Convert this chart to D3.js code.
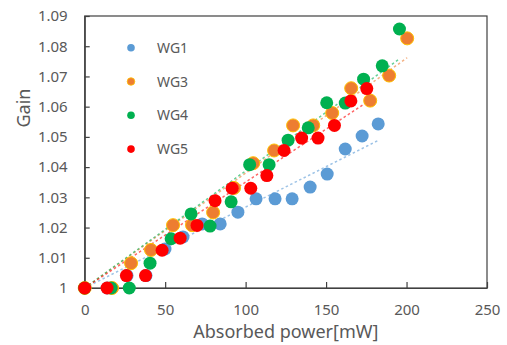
<!DOCTYPE html>
<html>
<head>
<meta charset="utf-8">
<script src="https://cdn.jsdelivr.net/npm/d3@7"></script>
<style>
  body { margin: 0; background: #fff; }
  text { font-family: "Noto Sans", sans-serif; fill: #595959; }
</style>
</head>
<body>
<svg width="507" height="345"></svg>
<script>
// Series data
const seriesNames = ["WG1", "WG3", "WG4", "WG5"];
const seriesColors = ["#5B9BD5", "#ED7D31", "#00B050", "#FF0000"];

const wg1Power = [0, 14, 26.3, 38.1, 49.9, 61.1, 73, 84.2, 95.2, 106.5, 118.3, 128.9, 140.1, 150.7, 161.9, 172.4, 182.4];
const wg1Gain  = [1, 1, 1.0041, 1.0041, 1.0129, 1.0169, 1.0212, 1.0212, 1.0251, 1.0295, 1.0295, 1.0295, 1.0334, 1.0377, 1.046, 1.0503, 1.0543];

const wg3Power = [0, 17, 28.8, 41.2, 54.9, 66.7, 79.8, 92.8, 104.7, 117.7, 129.5, 142, 153.8, 165.6, 177.4, 189.2, 200.4];
const wg3Gain  = [1, 1, 1.0082, 1.0126, 1.0208, 1.0208, 1.025, 1.0331, 1.0413, 1.0455, 1.0538, 1.0538, 1.0579, 1.0661, 1.062, 1.0703, 1.0826];

const wg4Power = [0, 16.4, 27.7, 40.6, 53.7, 66.1, 77.9, 91, 102.5, 114.6, 126.4, 138.9, 150.4, 161.9, 173.3, 184.9, 195.6];
const wg4Gain  = [1, 1, 1, 1.0082, 1.0163, 1.0245, 1.0205, 1.0285, 1.0408, 1.0408, 1.0489, 1.053, 1.0613, 1.0612, 1.0691, 1.0735, 1.0857];

const wg5Power = [0, 13.9, 25.9, 37.8, 48.1, 59.3, 69.8, 81, 91.6, 103.2, 113.2, 123.9, 134.8, 145, 155.2, 165.4, 175.3];
const wg5Gain  = [1, 1, 1.0041, 1.0041, 1.0125, 1.0165, 1.0207, 1.0289, 1.033, 1.033, 1.0372, 1.0455, 1.0496, 1.0496, 1.0538, 1.0619, 1.066];

const xTicks = [0, 50, 100, 150, 200, 250];
const yTicks = [1, 1.01, 1.02, 1.03, 1.04, 1.05, 1.06, 1.07, 1.08, 1.09];

const powers = [wg1Power, wg3Power, wg4Power, wg5Power];
const gains = [wg1Gain, wg3Gain, wg4Gain, wg5Gain];

const svg = d3.select("svg");
const x = d3.scaleLinear().domain([0, 250]).range([84.7, 487]);
const y = d3.scaleLinear().domain([1, 1.09]).range([288, 16]);

// plot frame
svg.append("rect")
    .attr("x", x(0)).attr("y", y(1.09))
    .attr("width", x(250) - x(0)).attr("height", y(1) - y(1.09))
    .attr("fill", "none").attr("stroke", "#404040").attr("stroke-width", 1.2);

// axes with inward ticks
const xAxis = svg.append("g")
    .attr("transform", `translate(0,${y(1)})`)
    .call(d3.axisBottom(x).tickValues(xTicks).tickSizeInner(-6).tickSizeOuter(0).tickPadding(16));
const yAxis = svg.append("g")
    .attr("transform", `translate(${x(0)},0)`)
    .call(d3.axisLeft(y).tickValues(yTicks).tickSizeInner(-5).tickSizeOuter(0).tickPadding(17)
        .tickFormat(d => d === 1 ? "1" : d3.format(".2f")(d)));

[xAxis, yAxis].forEach(a => {
    a.select(".domain").attr("stroke", "#404040").attr("stroke-width", 1.2);
    a.selectAll(".tick line").attr("stroke", "#404040").attr("stroke-width", 1.2);
    a.selectAll(".tick text").attr("fill", "#595959").style("font-size", "15px")
        .style("font-family", "'Noto Sans', sans-serif");
});

// axis titles
svg.append("text")
    .attr("x", (x(0) + x(250)) / 2).attr("y", 338)
    .attr("text-anchor", "middle").style("font-size", "18px")
    .text("Absorbed power[mW]");
svg.append("text")
    .attr("transform", "translate(30,108) rotate(-90)")
    .attr("text-anchor", "middle").style("font-size", "18px")
    .text("Gain");

// linear trendlines with intercept fixed at 1 (as Excel "set intercept")
const trends = svg.append("g");
seriesNames.forEach((name, i) => {
    const px = powers[i], gy = gains[i];
    const slope = d3.sum(px, (v, k) => v * (gy[k] - 1)) / d3.sum(px, v => v * v);
    const xMax = d3.max(px);
    trends.append("line")
        .attr("x1", x(0)).attr("y1", y(1))
        .attr("x2", x(xMax)).attr("y2", y(1 + slope * xMax))
        .attr("stroke", seriesColors[i]).attr("stroke-opacity", 0.6)
        .attr("stroke-width", 1.5).attr("stroke-dasharray", "2.5,2.5");
});

// scatter points
seriesNames.forEach((name, i) => {
    const pts = powers[i].map((v, k) => [v, gains[i][k]]);
    svg.append("g").selectAll("circle")
        .data(pts)
        .join("circle")
        .attr("cx", d => x(d[0]))
        .attr("cy", d => y(d[1]))
        .attr("r", 6.5)
        .attr("fill", seriesColors[i])
        .attr("stroke", i === 1 ? "#FFC000" : "none")
        .attr("stroke-width", 1);
});

// legend
const legend = svg.append("g");
seriesNames.forEach((name, i) => {
    const ly = 47.7 + i * 33.8;
    legend.append("circle")
        .attr("cx", 131).attr("cy", ly).attr("r", 3.8)
        .attr("fill", seriesColors[i])
        .attr("stroke", i === 1 ? "#FFC000" : "none").attr("stroke-width", 0.8);
    legend.append("text")
        .attr("x", 157).attr("y", ly + 5)
        .style("font-size", "14px")
        .text(name);
});
</script>
</body>
</html>
